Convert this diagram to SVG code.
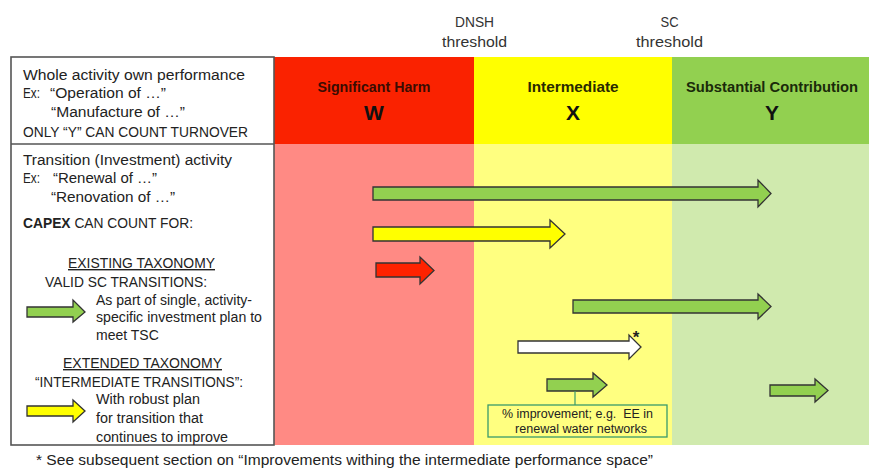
<svg xmlns="http://www.w3.org/2000/svg" width="869" height="468" viewBox="0 0 869 468">
<style>
text{font-family:"Liberation Sans",Arial,sans-serif;fill:#222;}
.t{font-size:14px;}
.hd{font-size:14px;font-weight:bold;text-anchor:middle;}
.big{font-size:21px;font-weight:bold;text-anchor:middle;fill:#111;}
.th{font-size:14px;text-anchor:middle;fill:#333;}
.u{text-decoration:underline;}
.arr{stroke:#333;stroke-width:1.3;stroke-linejoin:miter;}
.g{fill:#92D050;}
.y{fill:#FFFF00;}
.r{fill:#FF2200;}
.w{fill:#FFFFFF;}
.box{fill:#fff;stroke:#555;stroke-width:1.6;}
.c{font-size:12px;}
</style>
<rect width="869" height="468" fill="#fff"/>
<g id="thresholds">
<text class="th" x="474.5" y="27" textLength="39" lengthAdjust="spacingAndGlyphs">DNSH</text>
<text class="th" x="474.5" y="47" textLength="65" lengthAdjust="spacingAndGlyphs">threshold</text>
<text class="th" x="669.5" y="27" textLength="18" lengthAdjust="spacingAndGlyphs">SC</text>
<text class="th" x="669.5" y="47" textLength="67" lengthAdjust="spacingAndGlyphs">threshold</text>
</g>
<g id="col-harm">
<rect x="274" y="57" width="200" height="87" fill="#FA2200"/>
<rect x="274" y="144" width="200" height="301" fill="#FF8A84"/>
<text class="hd" x="374" y="92" style="fill:#3a0c02" textLength="113" lengthAdjust="spacingAndGlyphs">Significant Harm</text>
<text class="big" x="374" y="120">W</text>
</g>
<g id="col-intermediate">
<rect x="474" y="57" width="198" height="87" fill="#FFFF00"/>
<rect x="474" y="144" width="198" height="301" fill="#FFFF80"/>
<text class="hd" x="573" y="92" style="fill:#2a2a00" textLength="91" lengthAdjust="spacingAndGlyphs">Intermediate</text>
<text class="big" x="573" y="120">X</text>
</g>
<g id="col-sc">
<rect x="672" y="57" width="197" height="87" fill="#92D050"/>
<rect x="672" y="144" width="197" height="301" fill="#D0EAAE"/>
<text class="hd" x="772" y="92" style="fill:#1a2a0a" textLength="172" lengthAdjust="spacingAndGlyphs">Substantial Contribution</text>
<text class="big" x="772" y="120">Y</text>
</g>
<g id="legend-box">
<rect class="box" x="11" y="57" width="263" height="388"/>
<line x1="11" y1="144" x2="274" y2="144" stroke="#555" stroke-width="1.6"/>
<text class="t" x="23" y="80" textLength="222" lengthAdjust="spacingAndGlyphs">Whole activity own performance</text>
<text class="t" x="23" y="98" textLength="17" lengthAdjust="spacingAndGlyphs">Ex:</text>
<text class="t" x="50" y="98" textLength="116" lengthAdjust="spacingAndGlyphs">“Operation of …”</text>
<text class="t" x="51" y="117" textLength="134" lengthAdjust="spacingAndGlyphs">“Manufacture of …”</text>
<text class="t" x="23" y="137" textLength="225" lengthAdjust="spacingAndGlyphs">ONLY “Y” CAN COUNT TURNOVER</text>
<text class="t" x="23" y="165" textLength="209" lengthAdjust="spacingAndGlyphs">Transition (Investment) activity</text>
<text class="t" x="23" y="183" textLength="17" lengthAdjust="spacingAndGlyphs">Ex:</text>
<text class="t" x="53" y="183" textLength="104" lengthAdjust="spacingAndGlyphs">“Renewal of …”</text>
<text class="t" x="51" y="202" textLength="124" lengthAdjust="spacingAndGlyphs">“Renovation of …”</text>
<text class="t" x="23" y="228" textLength="170" lengthAdjust="spacingAndGlyphs"><tspan font-weight="bold">CAPEX</tspan> CAN COUNT FOR:</text>
<text class="t u" x="68" y="268" textLength="147" lengthAdjust="spacingAndGlyphs">EXISTING TAXONOMY</text>
<text class="t" x="45" y="287" textLength="162" lengthAdjust="spacingAndGlyphs">VALID SC TRANSITIONS:</text>
<text class="t" x="96" y="305" textLength="156" lengthAdjust="spacingAndGlyphs">As part of single, activity-</text>
<text class="t" x="96" y="322" textLength="166" lengthAdjust="spacingAndGlyphs">specific investment plan to</text>
<text class="t" x="96" y="340">meet TSC</text>
<text class="t u" x="63" y="368" textLength="159" lengthAdjust="spacingAndGlyphs">EXTENDED TAXONOMY</text>
<text class="t" x="35" y="387" textLength="208" lengthAdjust="spacingAndGlyphs">“INTERMEDIATE TRANSITIONS”:</text>
<text class="t" x="96" y="404" textLength="104" lengthAdjust="spacingAndGlyphs">With robust plan</text>
<text class="t" x="96" y="423" textLength="107" lengthAdjust="spacingAndGlyphs">for transition that</text>
<text class="t" x="96" y="442" textLength="132" lengthAdjust="spacingAndGlyphs">continues to improve</text>
<polygon class="arr g" points="27,307 73,307 73,300 85,312 73,322 73,317 27,317"/>
<polygon class="arr y" points="27,406 73,406 73,400 85,411 73,422 73,416 27,416"/>
</g>
<g id="arrow-sc-full">
<polygon class="arr g" points="373,187 758,187 758,180 771,193.5 758,207 758,200 373,200"/>
</g>
<g id="arrow-harm-to-int">
<polygon class="arr y" points="373,227 550,227 550,220 565,234 550,248 550,241 373,241"/>
</g>
<g id="arrow-harm">
<polygon class="arr r" points="376,263 420,263 420,257 434,270.5 420,284 420,277 376,277"/>
</g>
<g id="arrow-int-to-sc">
<polygon class="arr g" points="573,300 758,300 758,294 771,306.5 758,319 758,313 573,313"/>
</g>
<g id="arrow-int-white">
<polygon class="arr w" points="518,341 629,341 629,335 641,347 629,359 629,353 518,353"/>
<text x="636" y="343" style="font-size:17px;font-weight:bold;text-anchor:middle;fill:#222">*</text>
</g>
<g id="arrow-int-small">
<polygon class="arr g" points="547,379 593,379 593,373 607,385 593,397 593,391 547,391"/>
</g>
<g id="arrow-sc-small">
<polygon class="arr g" points="770,385 815,385 815,379 828,390.5 815,402 815,396 770,396"/>
</g>
<g id="callout">
<rect x="488" y="405" width="179" height="32" fill="#FFFF80" stroke="#3A9A6A" stroke-width="1.3"/>
<text class="c" x="502" y="418" textLength="151" lengthAdjust="spacingAndGlyphs" xml:space="preserve">% improvement; e.g.  EE in</text>
<text class="c" x="515" y="433" textLength="132" lengthAdjust="spacingAndGlyphs">renewal water networks</text>
</g>
<g id="connectors">
<line x1="575" y1="391" x2="575" y2="405" stroke="#3A9A6A" stroke-width="1.2"/>
</g>
<g id="footnote">
<text x="36" y="465" style="font-size:14px" textLength="617" lengthAdjust="spacingAndGlyphs">* See subsequent section on “Improvements withing the intermediate performance space”</text>
</g>
</svg>
